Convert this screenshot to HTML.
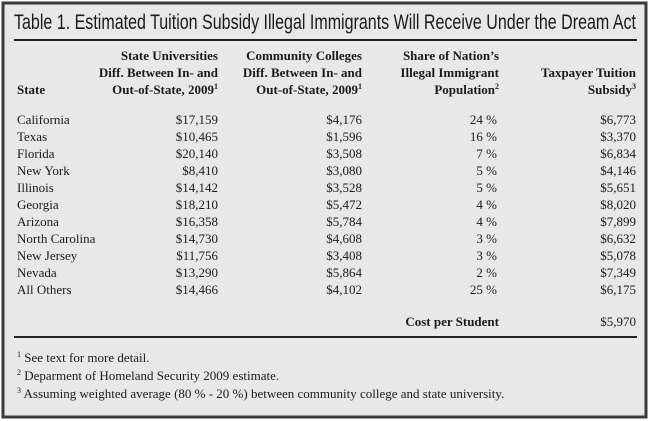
<!DOCTYPE html>
<html><head><meta charset="utf-8"><style>
html,body{margin:0;padding:0;background:#fff;}
svg{display:block;}
.s{font-family:"Liberation Serif",serif;font-size:13px;fill:#1a1a1a;}
.b{font-weight:bold;}
</style></head><body>
<svg width="650" height="421" xmlns="http://www.w3.org/2000/svg">
<rect x="0" y="0" width="650" height="421" fill="#fff"/>
<rect x="3" y="3" width="643" height="414" fill="#e8e8e9" stroke="#3a3a3a" stroke-width="3"/>
<text x="14" y="29" font-family="Liberation Sans, sans-serif" font-size="21" fill="#1a1a1a" textLength="622" lengthAdjust="spacingAndGlyphs">Table 1. Estimated Tuition Subsidy Illegal Immigrants Will Receive Under the Dream Act</text>
<rect x="14" y="39" width="623" height="2" fill="#222"/>
<g class="s b" text-anchor="end">
<text x="218" y="60">State Universities</text>
<text x="218" y="77">Diff. Between In- and</text>
<text x="218" y="94">Out-of-State, 2009<tspan font-size="8" dy="-5">1</tspan></text>
<text x="362" y="60">Community Colleges</text>
<text x="362" y="77">Diff. Between In- and</text>
<text x="362" y="94">Out-of-State, 2009<tspan font-size="8" dy="-5">1</tspan></text>
<text x="499" y="60">Share of Nation’s</text>
<text x="499" y="77">Illegal Immigrant</text>
<text x="499" y="94">Population<tspan font-size="8" dy="-5">2</tspan></text>
<text x="636" y="77">Taxpayer Tuition</text>
<text x="636" y="94">Subsidy<tspan font-size="8" dy="-5">3</tspan></text>
</g>
<text class="s b" x="17" y="94">State</text>
<g class="s">
<text x="17" y="124">California</text>
<text x="17" y="141">Texas</text>
<text x="17" y="158">Florida</text>
<text x="17" y="175">New York</text>
<text x="17" y="192">Illinois</text>
<text x="17" y="209">Georgia</text>
<text x="17" y="226">Arizona</text>
<text x="17" y="243">North Carolina</text>
<text x="17" y="260">New Jersey</text>
<text x="17" y="277">Nevada</text>
<text x="17" y="294">All Others</text>
</g>
<g class="s" text-anchor="end">
<text x="218" y="124">$17,159</text><text x="362" y="124">$4,176</text><text x="497" y="124">24 %</text><text x="636" y="124">$6,773</text>
<text x="218" y="141">$10,465</text><text x="362" y="141">$1,596</text><text x="497" y="141">16 %</text><text x="636" y="141">$3,370</text>
<text x="218" y="158">$20,140</text><text x="362" y="158">$3,508</text><text x="497" y="158">7 %</text><text x="636" y="158">$6,834</text>
<text x="218" y="175">$8,410</text><text x="362" y="175">$3,080</text><text x="497" y="175">5 %</text><text x="636" y="175">$4,146</text>
<text x="218" y="192">$14,142</text><text x="362" y="192">$3,528</text><text x="497" y="192">5 %</text><text x="636" y="192">$5,651</text>
<text x="218" y="209">$18,210</text><text x="362" y="209">$5,472</text><text x="497" y="209">4 %</text><text x="636" y="209">$8,020</text>
<text x="218" y="226">$16,358</text><text x="362" y="226">$5,784</text><text x="497" y="226">4 %</text><text x="636" y="226">$7,899</text>
<text x="218" y="243">$14,730</text><text x="362" y="243">$4,608</text><text x="497" y="243">3 %</text><text x="636" y="243">$6,632</text>
<text x="218" y="260">$11,756</text><text x="362" y="260">$3,408</text><text x="497" y="260">3 %</text><text x="636" y="260">$5,078</text>
<text x="218" y="277">$13,290</text><text x="362" y="277">$5,864</text><text x="497" y="277">2 %</text><text x="636" y="277">$7,349</text>
<text x="218" y="294">$14,466</text><text x="362" y="294">$4,102</text><text x="497" y="294">25 %</text><text x="636" y="294">$6,175</text>
<text x="499" y="326" font-weight="bold">Cost per Student</text>
<text x="636" y="326">$5,970</text>
</g>
<rect x="14" y="336" width="623" height="2" fill="#222"/>
<g class="s">
<text x="17" y="362"><tspan font-size="8" dy="-5">1</tspan><tspan dy="5"> See text for more detail.</tspan></text>
<text x="17" y="380"><tspan font-size="8" dy="-5">2</tspan><tspan dy="5"> Deparment of Homeland Security 2009 estimate.</tspan></text>
<text x="17" y="398"><tspan font-size="8" dy="-5">3</tspan><tspan dy="5"> Assuming weighted average (80 % - 20 %) between community college and state university.</tspan></text>
</g>
</svg>
</body></html>
